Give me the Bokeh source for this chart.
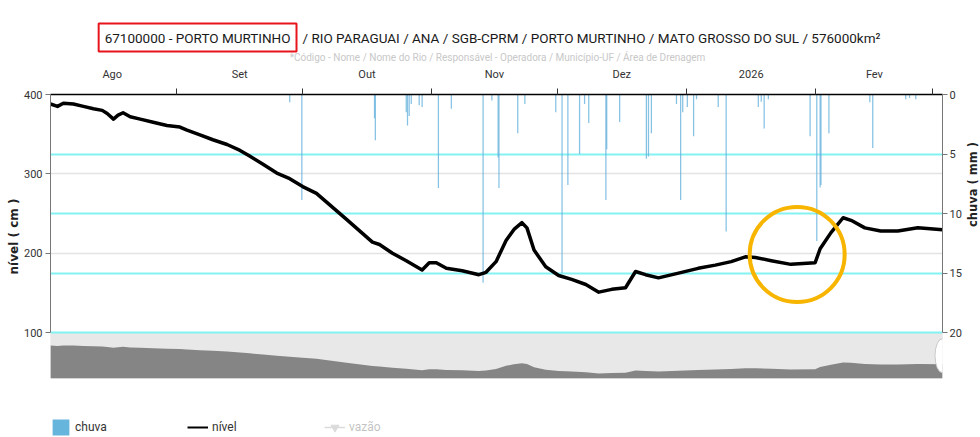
import math
import pandas as pd
from bokeh.plotting import figure
from bokeh.layouts import column, row
from bokeh.models import (Range1d, LinearAxis, FixedTicker, Grid, BoxAnnotation,
                          Label, Legend, LegendItem)
from bokeh.embed import file_html
from bokeh.resources import INLINE

# ---------------- data ----------------
BASE = pd.Timestamp("2025-08-01")

# nível (cm): days since 2025-08-01
dias_nivel = [0.7, 2.4, 3.8, 6.2, 8.6, 11.0, 13.1, 14.3, 15.8, 16.9, 18.1, 19.8,
              22.2, 25.3, 28.6, 31.7, 33.4, 36.5, 39.6, 43.0, 46.1, 48.4, 51.6,
              54.9, 58.0, 61.1, 64.4, 71.6, 77.8, 79.5, 82.6, 85.9, 89.7, 91.4,
              93.1, 95.5, 99.3, 103.3, 105.0, 107.4, 109.8, 111.7, 113.6, 114.8,
              116.5, 119.3, 122.4, 125.5, 128.9, 132.0, 135.1, 138.4, 140.8,
              143.2, 146.3, 151.1, 155.8, 159.9, 163.7, 167.1, 169.5, 173.3,
              178.0, 183.8, 185.0, 187.6, 190.5, 192.4, 195.7, 199.5, 203.6,
              208.4, 214.3]
nivel = [388, 385, 389, 388, 385, 382, 380, 376, 369, 374, 377, 372,
         369, 365, 361, 359, 355, 349, 343, 337, 329.5, 322.5, 312,
         301, 294, 284, 275.5, 242.6, 214, 211, 200, 190.6, 179, 188,
         188, 181, 178, 173, 176, 189.4, 216, 230, 238.5, 232,
         204, 183, 172, 167, 160.6, 151, 154.5, 156.5, 177,
         173, 169, 175, 181, 185, 189.4, 195.5, 194.7, 190.6,
         186, 188, 205.7, 226, 244.7, 241.5, 232, 228, 228,
         232, 229.5]

# chuva (mm)
dias_chuva = [58.0, 60.9, 78.3, 78.5, 85.9, 86.2, 86.6, 87.1, 89.0, 89.7, 93.6,
              96.7, 104.3, 106.4, 107.9, 108.1, 112.6, 114.3, 121.7, 123.2,
              124.6, 127.4, 128.6, 129.6, 133.7, 133.9, 137.0, 143.4, 143.9,
              144.6, 150.6, 151.6, 152.1, 153.2, 154.7, 155.4, 160.6, 162.5,
              170.2, 170.9, 171.6, 172.6, 182.6, 184.2, 185.0, 185.2, 187.1,
              196.9, 197.6, 205.5, 206.4, 207.9]
chuva = [0.65, 8.85, 2.0, 3.85, 1.5, 2.6, 1.8, 0.8, 0.9, 1.05, 7.85,
         1.2, 15.8, 0.5, 5.3, 7.85, 3.25, 0.8, 1.5, 15.0,
         7.6, 5.0, 0.8, 2.4, 8.85, 4.6, 2.3, 5.4, 5.2,
         3.25, 0.8, 8.85, 1.5, 1.05, 3.5, 0.4, 1.05, 11.5,
         1.05, 0.6, 2.85, 0.4, 3.5, 12.3, 7.8, 7.6, 3.25,
         0.65, 4.5, 0.4, 0.3, 0.4]

meses = ["Ago", "Set", "Out", "Nov", "Dez", "2026", "Fev"]
inicio_meses = ["2025-08-01", "2025-09-01", "2025-10-01", "2025-11-01",
                "2025-12-01", "2026-01-01", "2026-02-01", "2026-03-01"]
nivel_ticks = [100, 200, 300, 400]
chuva_ticks = [0, 5, 10, 15, 20]

titulo_a = "67100000 - PORTO MURTINHO"
titulo_b = "/ RIO PARAGUAI / ANA / SGB-CPRM / PORTO MURTINHO / MATO GROSSO DO SUL / 576000km²"
subtitulo = "*Código - Nome / Nome do Rio / Responsável - Operadora / Município-UF / Área de Drenagem"
legenda = ["chuva", "nível", "vazão"]

# highlighted region (yellow circle)
destaque_dia, destaque_nivel = 179.5, 198.4

# ---------------- helpers ----------------
DAY = 86400000.0
FONT = "Roboto"


def ms(ts):
    return ts.value / 1e6


def day_ms(d):
    return ms(BASE) + d * DAY


def bare(fig):
    fig.outline_line_color = None
    fig.background_fill_color = "white"
    fig.border_fill_color = "white"
    fig.grid.visible = False
    return fig


x_nivel = [day_ms(d) for d in dias_nivel]
x_chuva = [day_ms(d) for d in dias_chuva]
x_start, x_end = day_ms(0.72), day_ms(214.3)

starts = [ms(pd.Timestamp(s)) for s in inicio_meses]
mids = [(starts[i] + min(starts[i + 1], x_end)) / 2 for i in range(len(meses))]

# ---------------- header (titles) ----------------
H_HEAD = 64
head = bare(figure(width=980, height=H_HEAD, x_axis_location=None, y_axis_location=None,
                   output_backend="svg", toolbar_location=None, min_border=0))
head.add_layout(Label(x=296, y=27, x_units="screen", y_units="screen", text=titulo_a,
                      text_align="right", text_baseline="middle", text_font=FONT,
                      text_font_size="13.5px", text_color="#1a1a1a",
                      border_line_color="#e8141b", border_line_width=2, padding=6))
head.add_layout(Label(x=302, y=27, x_units="screen", y_units="screen", text=titulo_b,
                      text_align="left", text_baseline="middle", text_font=FONT,
                      text_font_size="13.5px", text_color="#1a1a1a"))
head.add_layout(Label(x=497, y=7, x_units="screen", y_units="screen", text=subtitulo,
                      text_align="center", text_baseline="middle", text_font=FONT,
                      text_font_size="10px", text_color="#c8c8c8"))

# ---------------- main chart ----------------
H_MAIN = 334
p = figure(width=964, height=H_MAIN, x_range=Range1d(x_start, x_end),
           y_range=Range1d(42.2, 400), x_axis_location="above",
           output_backend="svg", toolbar_location=None,
           min_border_left=50, min_border_right=19, min_border_top=23,
           min_border_bottom=20)
p.outline_line_color = None
p.background_fill_color = "white"
p.border_fill_color = "white"
p.extra_y_ranges = {"rain": Range1d(23.85, 0), "nav": Range1d(108.6, 2518)}

# top (date) axis
xa = p.xaxis[0]
xa.ticker = FixedTicker(ticks=mids, minor_ticks=starts[1:])
xa.major_label_overrides = {m: lab for m, lab in zip(mids, meses)}
xa.major_tick_line_color = None
xa.major_tick_out = 0
xa.major_tick_in = 0
xa.minor_tick_out = 6
xa.minor_tick_in = 0
xa.minor_tick_line_color = "#333"
xa.axis_line_color = "black"
xa.axis_line_width = 1.5
xa.major_label_standoff = 8
xa.major_label_text_font = FONT
xa.major_label_text_font_size = "11px"
xa.major_label_text_color = "#333"
p.xgrid.visible = False

# left (nível) axis
ya = p.yaxis[0]
ya.ticker = FixedTicker(ticks=nivel_ticks)
ya.bounds = (100, 400)
ya.major_tick_out = 5
ya.major_tick_in = 0
ya.minor_tick_line_color = None
ya.axis_line_color = "#777"
ya.major_tick_line_color = "#777"
ya.major_label_standoff = 3
ya.major_label_text_font = FONT
ya.major_label_text_font_size = "11px"
ya.major_label_text_color = "#333"
ya.axis_label = "nível ( cm )"
ya.axis_label_text_font = "DejaVu Sans"
ya.axis_label_text_font_style = "bold"
ya.axis_label_text_font_size = "12px"
ya.axis_label_text_color = "#222"
ya.axis_label_standoff = 0
p.ygrid.ticker = FixedTicker(ticks=[200, 300])
p.ygrid.grid_line_color = "#e3e3e3"
p.ygrid.grid_line_width = 1.5

# right (chuva) axis
ra = LinearAxis(y_range_name="rain", ticker=FixedTicker(ticks=chuva_ticks), bounds=(0, 20))
ra.major_tick_out = 5
ra.major_tick_in = 0
ra.minor_tick_line_color = None
ra.axis_line_color = "#777"
ra.major_tick_line_color = "#777"
ra.major_label_standoff = 2
ra.major_label_text_font = FONT
ra.major_label_text_font_size = "11px"
ra.major_label_text_color = "#333"
p.add_layout(ra, "right")

# navigator background + series
p.add_layout(BoxAnnotation(top=100, fill_color="#e8e8e8", fill_alpha=1,
                           line_color="#b8b8b8", line_width=1, level="underlay"))
p.varea(x=x_nivel, y1=108.6, y2=nivel, y_range_name="nav", fill_color="#858585")

# cyan rain grid
p.add_layout(Grid(dimension=1, ticker=FixedTicker(ticks=[5, 10, 15, 20]),
                  y_range_name="rain", grid_line_color="#84f2f2",
                  grid_line_width=2))

# rain bars
p.vbar(x=x_chuva, top=0, bottom=chuva, width=0.3 * DAY, y_range_name="rain",
       fill_color="#5eaedb", fill_alpha=0.75, line_color=None)

# level line
p.line(x_nivel, nivel, line_color="black", line_width=3.5, line_join="round")

# navigator handle
p.ellipse(x=[x_end], y=[71], width=15, height=34, width_units="screen",
          height_units="screen", fill_color="white", line_color="#c8c8c8")

# yellow highlight circle
p.scatter(x=[day_ms(destaque_dia)], y=[destaque_nivel], marker="circle", size=95,
          fill_color=None, line_color="#F7B500", line_width=4)

# ---------------- right strip (rain axis title) ----------------
side = bare(figure(width=16, height=H_MAIN, x_axis_location=None, y_axis_location=None,
                   output_backend="svg", toolbar_location=None, min_border=0))
side.add_layout(Label(x=8, y=H_MAIN - 140, x_units="screen", y_units="screen",
                      text="chuva ( mm )", angle=math.pi / 2, text_align="center",
                      text_baseline="middle", text_font="DejaVu Sans",
                      text_font_style="bold", text_font_size="11.5px", text_color="#222"))

# ---------------- footer (legend) ----------------
foot = bare(figure(width=980, height=39, x_axis_location=None, y_axis_location=None,
                   x_range=Range1d(0, 1), y_range=Range1d(0, 1),
                   output_backend="svg", toolbar_location=None, min_border=0))
# legend proxies (kept outside the visible range)
r_chuva = foot.vbar(x=[-5], top=[-5], bottom=[-6], width=1, fill_color="#66b5dd",
                    line_color=None)
r_nivel = foot.line(x=[-6, -5], y=[-5, -5], line_color="black", line_width=2)
r_vz_line = foot.line(x=[-6, -5], y=[-5, -5], line_color="#888", line_width=1.5,
                      visible=False)
r_vz_mark = foot.scatter(x=[-5], y=[-5], marker="inverted_triangle", size=9,
                         color="#888", visible=False)
legend = Legend(items=[LegendItem(label=legenda[0], renderers=[r_chuva]),
                       LegendItem(label=legenda[1], renderers=[r_nivel]),
                       LegendItem(label=legenda[2], renderers=[r_vz_line, r_vz_mark])],
                orientation="horizontal", location=(50, 0), glyph_width=21,
                glyph_height=20, label_width=112, spacing=0, padding=0, margin=0,
                label_standoff=4, border_line_color=None, background_fill_alpha=0,
                label_text_font=FONT, label_text_font_size="12px",
                label_text_color="#333", click_policy="hide")
foot.add_layout(legend, "center")

layout = column(head, row(p, side), foot, spacing=0)
open("out.html", "w").write(file_html(layout, INLINE))
